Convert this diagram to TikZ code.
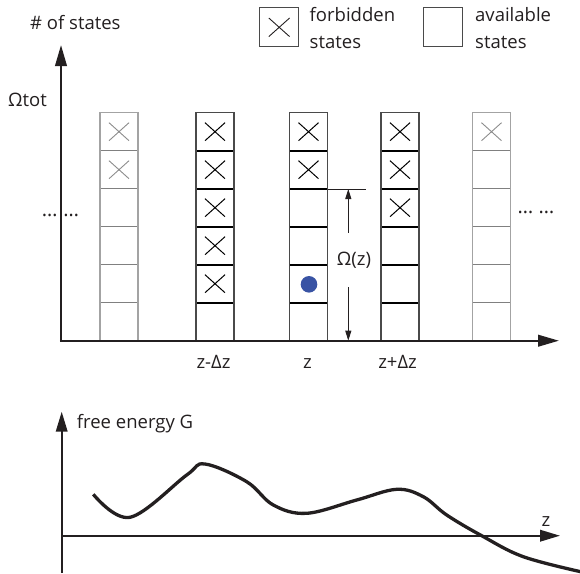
\documentclass[tikz,border=0pt]{standalone}
\usepackage{fontspec}
\setmainfont{Open Sans}
\usetikzlibrary{arrows.meta}
\definecolor{ink}{HTML}{231F20}
\definecolor{dotblue}{HTML}{3953A4}
\definecolor{lgray}{HTML}{A3A3A3}
\definecolor{mgray}{HTML}{808080}
\definecolor{xgray}{HTML}{8C8C8C}
\definecolor{dgray}{HTML}{4A4A4A}
\tikzset{
  lbl/.style={font=\fontsize{18.5}{22}\selectfont, inner sep=0pt, text=ink},
  dotstxt/.style={font=\fontsize{20}{22}\selectfont, inner sep=0pt, text=ink},
  bigaxis/.style={draw=ink, line width=2.4pt, -{Triangle[length=21pt,width=11.5pt]}},
  smallaxis/.style={draw=ink, line width=2pt, -{Triangle[length=20pt,width=11.5pt]}},
  omarrow/.style={draw=ink, line width=0.9pt, -{Triangle[length=10pt,width=6pt]}},
  g sep/.style={draw=mgray, line width=1.4pt},
  g box/.style={draw=lgray, line width=1.3pt},
  g x/.style={draw=xgray, line width=0.9pt},
  d sep/.style={draw=black, line width=1.7pt},
  d box/.style={draw=dgray, line width=1.3pt},
  d x/.style={draw=black, line width=1pt},
  legbox/.style={draw=dgray, line width=1pt, minimum width=39pt, minimum height=39.4pt, inner sep=0pt},
  curveline/.style={draw=ink, line width=3.3pt},
}
\begin{document}
\begin{tikzpicture}[x=1pt,y=-1pt]
\useasboundingbox (0,0) rectangle (580,573);

% ---- top diagram: axes
\coordinate (O) at (61,340.7);
\coordinate (ytip) at (61,45);
\coordinate (xtip) at (559,340.7);

% columns of states
\foreach \cx/\cs/\nx in {100/g/2, 196/d/5, 289.5/d/2, 381/d/3, 472.5/g/1} {
  \foreach \j in {1,...,5}
    \draw[\cs\space sep] (\cx,112.7+38*\j) -- ++(38,0);
  \draw[\cs\space box] (\cx,112.7) rectangle ++(38,228);
  \foreach \j in {1,...,\nx}
    \draw[\cs\space x] (\cx+9,112.7+38*\j-28) -- ++(20,18)
                       (\cx+9,112.7+38*\j-10) -- ++(20,-18);
}

\draw[bigaxis] (O) -- (ytip);
\draw[bigaxis] ([xshift=-1.2pt]O) -- (xtip);

% particle
\fill[dotblue] (309,284.3) circle[radius=8.3];

% Omega(z) marker
\coordinate (otick) at (327.7,189);
\coordinate (otickend) at (366,189);
\coordinate (otop) at (348.3,189);
\coordinate (obot) at (348.3,340.7);
\draw[ink, line width=0.9pt] (otick) -- (otickend);
\node[lbl, minimum height=54pt] (omega) at (354,260) {Ω(z)};
\draw[omarrow] (omega.north -| otop) -- (otop);
\draw[omarrow] (omega.south -| obot) -- (obot);

% labels
\node[lbl, anchor=base west] (ystates) at (30,29) {\# of states};
\node[lbl, anchor=base west] (otot) at (8,106.7) {Ωtot};
\node[dotstxt, anchor=base] (ldotsA) at (49.7,216.5) {…};
\node[dotstxt, anchor=base] (ldotsB) at (71.3,216.5) {…};
\node[dotstxt, anchor=base] (rdots) at (536,213.5) {… …};
\node[lbl, anchor=base] (lzm) at (213.5,368) {z-Δz};
\node[lbl, anchor=base] (lz) at (307.5,368) {z};
\node[lbl, anchor=base] (lzp) at (397.5,368) {z+Δz};

% legend
\node[legbox] (fbox) at (278.8,27) {};
\draw[ink, line width=0.9pt] (268.8,18) -- (289.6,36.6) (268.8,36.6) -- (289.6,18);
\node[lbl, anchor=base west] (forb1) at (309.5,21.7) {forbidden};
\node[lbl, anchor=base west] (forb2) at (309.5,48.3) {states};
\node[legbox] (abox) at (443,27) {};
\node[lbl, anchor=base west] (avail1) at (475,21.7) {available};
\node[lbl, anchor=base west] (avail2) at (475,48.3) {states};

% ---- bottom diagram
\coordinate (O2) at (61.7,535.7);
\coordinate (gbot) at (61.7,573);
\coordinate (gtip) at (61.7,411.7);
\coordinate (ztip) at (560,535.7);
\draw[smallaxis] (gbot) -- (gtip);
\draw[smallaxis] (O2) -- (ztip);
\node[lbl, anchor=base west] (gl) at (76.7,428.3) {free energy G};
\node[lbl, anchor=base] (zl) at (546,526) {z};

\draw[curveline] plot[smooth, tension=0.6] coordinates {
  (93.3,494.3) (130,517.3) (186.7,475) (205,464) (246.7,481.7)
  (273.3,505) (306.7,513.3) (356.7,500) (396.7,489.3)
  (423.3,496.7) (446.7,515) (481.7,535.7) (523.3,556.7) (582,572)};
\end{tikzpicture}
\end{document}
